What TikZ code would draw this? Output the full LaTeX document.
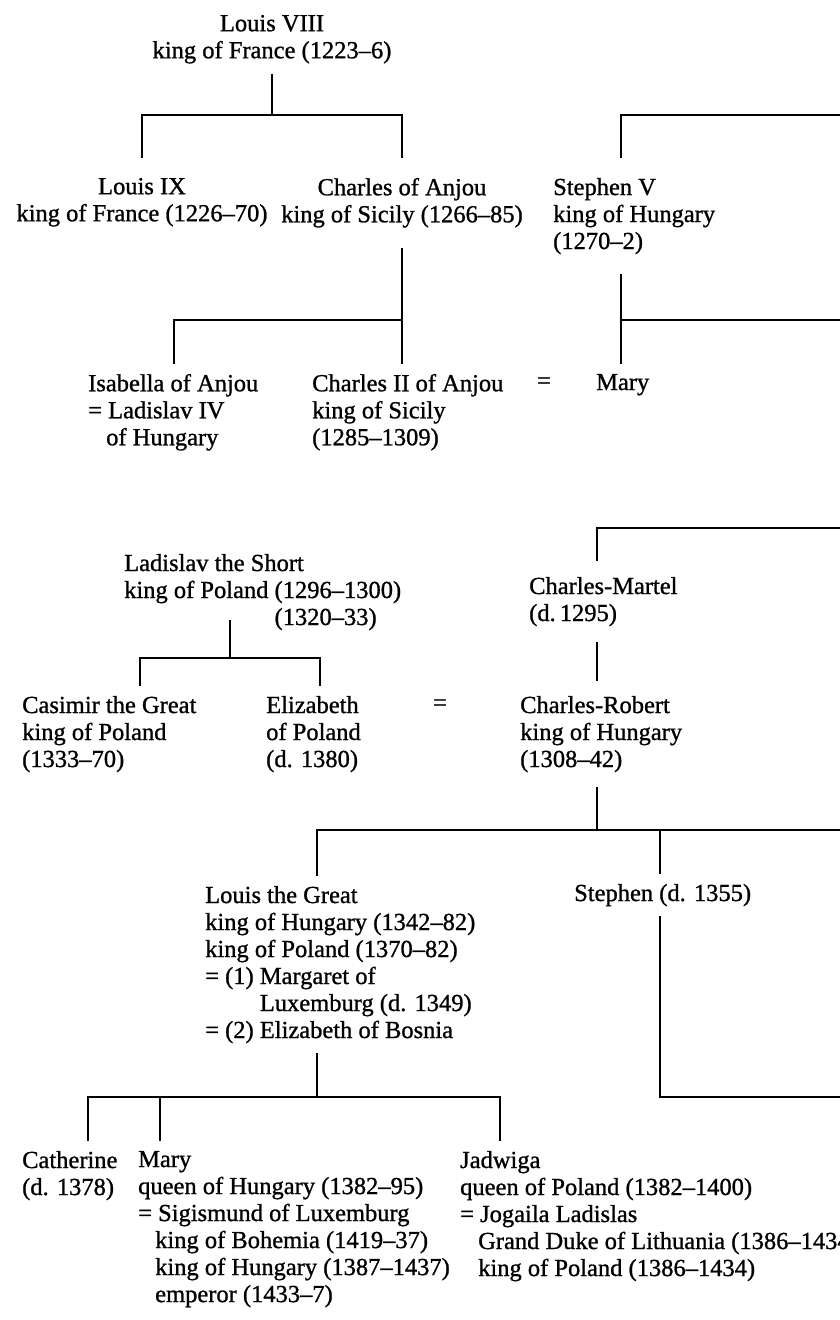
\documentclass[tikz,border=0pt]{standalone}
\usepackage{fontspec}
\setmainfont{Liberation Serif}[FakeBold=1.0]
\tikzset{
	person/.style={align=left, inner sep=0pt, outer ysep=10pt, font=\fontsize{24.5}{27}\selectfont},
	wed/.style={inner sep=0pt, font=\fontsize{24.5}{27}\selectfont},
	line/.style={line width=1.8pt}
}
\begin{document}
\begin{tikzpicture}[x=1pt, y=-1pt]
	\useasboundingbox (0,0) rectangle (840,1320);
	
	% house of France and Anjou
	\node[person, align=center, anchor=north] (louis8) at (272,5) {Louis VIII\\king of France (1223--6)};
	\node[person, outer ysep=20pt, align=center, anchor=north] (louis9) at (142,158) {Louis IX\\king of France (1226--70)};
	\node[person, outer ysep=20pt, align=center, anchor=north] (anjou) at (402,158) {Charles of Anjou\\king of Sicily (1266--85)};
	\node[person, outer ysep=20pt, anchor=north west] (stephen5) at (553,158) {Stephen V\\king of Hungary\\(1270--2)};
	
	\node[person, anchor=north west] (isabella) at (88,364) {Isabella of Anjou\\= Ladislav IV\\\hspace*{18pt}of Hungary};
	\node[person, anchor=north west] (charles2) at (312,364) {Charles II of Anjou\\king of Sicily\\(1285--1309)};
	\node[wed] (eq1) at (544,383) {=};
	\node[person, anchor=north west] (mary) at (596,364) {Mary};
	
	% Poland and Hungary
	\node[person, anchor=north west] (ladislav) at (124,544) {Ladislav the Short\\king of Poland (1296--1300)\\\phantom{king of Poland }(1320--33)};
	\node[person, outer ysep=16pt, anchor=north west] (martel) at (529,561) {Charles-Martel\\(d.\,1295)};
	
	\node[person, anchor=north west] (casimir) at (22,686) {Casimir the Great\\king of Poland\\(1333--70)};
	\node[person, anchor=north west] (elizabeth) at (266,686) {Elizabeth\\of Poland\\(d. 1380)};
	\node[wed] (eq2) at (440,705) {=};
	\node[person, outer ysep=15pt, anchor=north west] (robert) at (520,681) {Charles-Robert\\king of Hungary\\(1308--42)};
	
	\node[person, anchor=north west] (louisg) at (205,876) {Louis the Great\\king of Hungary (1342--82)\\king of Poland (1370--82)\\= (1) Margaret of\\\phantom{= (1) }Luxemburg (d. 1349)\\= (2) Elizabeth of Bosnia};
	\node[person, anchor=north west] (stephen) at (574,874) {Stephen (d. 1355)};
	
	\node[person, anchor=north west] (catherine) at (22,1141) {Catherine\\(d. 1378)};
	\node[person, anchor=north west] (maryh) at (138,1141) {Mary\\queen of Hungary (1382--95)\\= Sigismund of Luxemburg\\\hspace*{17pt}king of Bohemia (1419--37)\\\hspace*{17pt}king of Hungary (1387--1437)\\\hspace*{17pt}emperor (1433--7)};
	\node[person, anchor=north west] (jadwiga) at (460,1141) {Jadwiga\\queen of Poland (1382--1400)\\= Jogaila Ladislas\\\hspace*{18pt}Grand Duke of Lithuania (1386--1434)\\\hspace*{18pt}king of Poland (1386--1434)};
	
	% forks
	\coordinate (b1) at (272,115);
	\coordinate (b1s) at (621,115);
	\coordinate (e1) at (840,115);
	\coordinate (b2) at (402,320);
	\coordinate (b2a) at (174,320);
	\coordinate (b2s) at (621,320);
	\coordinate (e2) at (840,320);
	\coordinate (b4) at (597,528);
	\coordinate (e4) at (840,528);
	\coordinate (jl0) at (230,620);
	\coordinate (jl) at (230,658);
	\coordinate (jla) at (140,658);
	\coordinate (jlb) at (320,658);
	\coordinate (b6) at (597,830);
	\coordinate (b6a) at (317,830);
	\coordinate (b6b) at (660,830);
	\coordinate (e6) at (840,830);
	\coordinate (b7) at (317,1097);
	\coordinate (b7a) at (88,1097);
	\coordinate (b7b) at (160,1097);
	\coordinate (b7c) at (500,1097);
	\coordinate (b8) at (660,1097);
	\coordinate (e8) at (840,1097);
	
	\draw[line] (louis8.south) -- (b1);
	\draw[line] (louis9.north) |- (anjou.north |- b1) -- (anjou.north);
	\draw[line] (stephen5.north -| b1s) -- (b1s) -- (e1);
	
	\draw[line] (anjou.south) -- (anjou.south |- charles2.north);
	\draw[line] (isabella.north -| b2a) -- (b2a) -- (b2);
	\draw[line] (stephen5.south -| b2s) -- (mary.north -| b2s);
	\draw[line] (b2s) -- (e2);
	
	\draw[line] (martel.north -| b4) -- (b4) -- (e4);
	\draw[line] (martel.south -| b4) -- (robert.north -| b4);
	\draw[line] (jl0) -- (jl);
	\draw[line] (casimir.north -| jla) -- (jla) -- (jlb) -- (elizabeth.north -| jlb);
	
	\draw[line] (robert.south -| b6) -- (b6);
	\draw[line] (louisg.north -| b6a) -- (b6a) -- (e6);
	\draw[line] (b6b) -- (stephen.north -| b6b);
	\draw[line] (stephen.south -| b8) -- (b8) -- (e8);
	
	\draw[line] (louisg.south -| b7) -- (b7);
	\draw[line] (catherine.north -| b7a) -- (b7a) -- (b7c) -- (jadwiga.north -| b7c);
	\draw[line] (b7b) -- (maryh.north -| b7b);
\end{tikzpicture}
\end{document}
